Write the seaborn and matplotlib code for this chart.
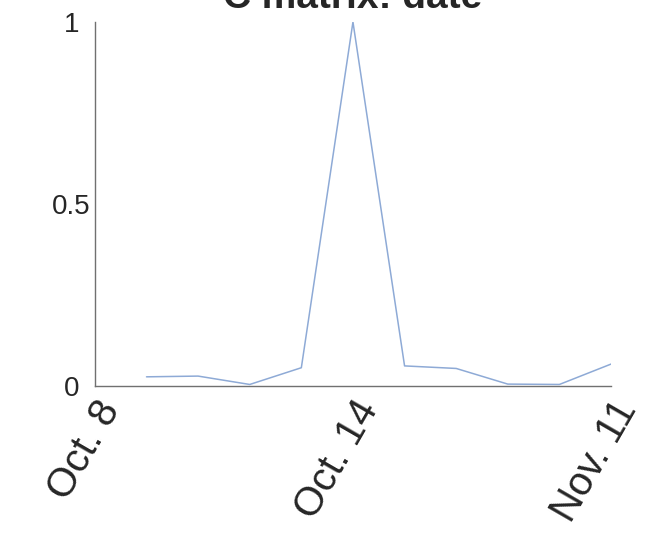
import matplotlib
matplotlib.use("Agg")
import matplotlib.pyplot as plt
import seaborn as sns
import pandas as pd

# C matrix values per date index
day_index = [1, 2, 3, 4, 5, 6, 7, 8, 9, 10]
c_values = [0.025, 0.027, 0.004, 0.05, 1.0, 0.055, 0.048, 0.005, 0.004, 0.06]
xtick_pos = [0, 5, 10]
xtick_labels = ["Oct. 8", "Oct. 14", "Nov. 11"]
ytick_pos = [0, 0.5, 1]
ytick_labels = ["0", "0.5", "1"]

sns.set_style("white")
plt.rcParams["font.family"] = ["Liberation Sans", "DejaVu Sans"]

df = pd.DataFrame({"day": day_index, "c": c_values})

fig = plt.figure(figsize=(6.5, 5.36), dpi=100)
ax = fig.add_axes([0.146, 0.280, 0.794, 0.679])

sns.lineplot(data=df, x="day", y="c", ax=ax, color="#8eaad6", linewidth=1.1)

ax.set_xlim(0, 10)
ax.set_ylim(0, 1)
ax.set_xticks(xtick_pos)
ax.set_xticklabels(xtick_labels, rotation=60, ha="right", va="top",
                   rotation_mode="anchor", fontsize=29)
ax.set_yticks(ytick_pos)
ax.set_yticklabels(ytick_labels, fontsize=20, ha="center")
ax.set_xlabel("")
ax.set_ylabel("")

for side in ["top", "right"]:
    ax.spines[side].set_visible(False)
for side in ["left", "bottom"]:
    ax.spines[side].set_color("#707070")
    ax.spines[side].set_linewidth(1.0)

ax.tick_params(axis="both", direction="in", length=5, width=0.8,
               color="#707070", labelcolor="#262626")
ax.tick_params(axis="y", pad=17)
ax.tick_params(axis="x", pad=6)

ax.set_title("C matrix: date", fontsize=28, fontweight="bold", pad=10)

fig.savefig("out.png", dpi=100)
plt.close(fig)
